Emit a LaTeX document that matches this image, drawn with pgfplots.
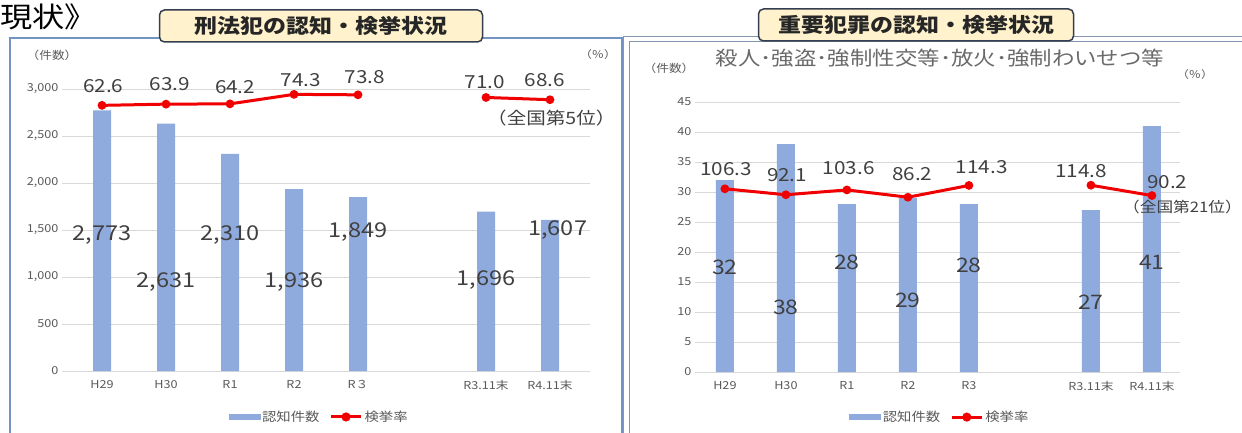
\documentclass[border=0pt]{standalone}
\usepackage{pgfplots}
\pgfplotsset{compat=1.18}
\usepackage{fontspec}
\setmainfont[FakeStretch=1.15]{Noto Sans CJK JP}

\definecolor{barblue}{HTML}{8FAADC}
\definecolor{ratered}{HTML}{F00000}
\definecolor{gridgray}{HTML}{D9D9D9}
\definecolor{ticktext}{HTML}{595959}
\definecolor{labeltext}{HTML}{404040}
\definecolor{boxfill}{HTML}{FFF2CC}
\definecolor{boxline}{HTML}{333F50}
\definecolor{panelline}{HTML}{7393C0}
\definecolor{panelgray}{HTML}{8497B0}

\newcommand{\fsz}[1]{\fontsize{#1}{#1}\selectfont}

\pgfplotsset{
  base/.style={
    scale only axis, clip=false,
    axis line style={draw=none},
    tick style={draw=none},
    /pgf/number format/assume math mode=true,
    /pgf/number format/1000 sep={,},
    scaled y ticks=false,
    tick label style={font=\fsz{11}, text=ticktext},
    xticklabel style={yshift=-6pt},
    grid style={gridgray, line width=0.8pt},
    xtick={0,1,2,3,4,6,7},
  },
  ratestyle/.style={ratered, line width=3pt, mark=*, mark size=2.8pt,
    mark options={fill=ratered, draw=ratered}},
  labstyle/.style={draw=none, mark=none, forget plot, nodes near coords,
    point meta=explicit symbolic,
    every node near coord/.append style={anchor=center, inner sep=0pt, text=labeltext, font=\fsz{#1}}},
  barleg/.style={legend image code/.code={\fill[barblue] (0pt,-2.5pt) rectangle (31pt,2.5pt);}},
  rateleg/.style={legend image code/.code={\draw[ratered, line width=3pt] (0pt,0pt) -- (30pt,0pt);
    \fill[ratered] (15pt,0pt) circle (3pt);}},
  legstyle/.style={legend style={at={#1}, anchor=center, draw=none, fill=none,
    legend columns=-1, font=\fsz{12.5}, text=ticktext,
    /tikz/every even column/.append style={column sep=8pt}}},
}

\begin{document}
\begin{tikzpicture}
\useasboundingbox (0,0) rectangle (1242pt,432pt);

% panel frames and headings
\begin{scope}[x=1pt, y=-1pt, yshift=432pt]
  \draw[panelline, line width=1.2pt] (10,445) -- (10,38) -- (622,38) -- (622,445);
  \draw[panelgray, line width=1pt] (623,445) -- (623,37) -- (1250,37);
  \draw[panelgray, line width=1pt] (629,445) -- (629,42) -- (1250,42);
  \node[anchor=west, inner sep=0pt, font=\fsz{28}] at (0,17) {現状》};
  \node[draw=boxline, fill=boxfill, line width=1.5pt, rounded corners=5pt,
        minimum width=323pt, minimum height=32pt, inner sep=0pt,
        font=\fsz{20}\bfseries, text=black!85] at (321,26) {刑法犯の認知・検挙状況};
  \node[draw=boxline, fill=boxfill, line width=1.5pt, rounded corners=5pt,
        minimum width=315pt, minimum height=32pt, inner sep=0pt,
        font=\fsz{20}\bfseries, text=black!85] at (916,25) {重要犯罪の認知・検挙状況};
  \node[font=\fsz{11}, text=ticktext] at (52,55) {（件数）};
  \node[font=\fsz{10.5}, text=ticktext] at (598,55) {（％）};
  \node[font=\fsz{11}, text=ticktext] at (669,68) {（件数）};
  \node[font=\fsz{10.5}, text=ticktext] at (1195,75) {（％）};
  \node[font=\fsz{19.5}, text=ticktext!90] at (940,58) {殺人･強盗･強制性交等･放火･強制わいせつ等};
\end{scope}

% ---- left: 刑法犯 ----
\begin{axis}[base, at={(62pt,61pt)}, anchor=south west, width=528pt, height=282pt,
  xmin=-0.625, xmax=7.625, ymin=0, ymax=3000, ytick={0,500,...,3000}, ymajorgrids,
  xticklabels={H29,H30,R1,R2,R３,R3.11末,R4.11末}]
  \addplot[ybar, bar width=18pt, fill=barblue, draw=none]
    coordinates {(0,2773) (1,2631) (2,2310) (3,1936) (4,1849) (6,1696) (7,1607)};
  \addplot[labstyle=20.5] table[meta=lab] {
    x    y    lab
    0    1447 2,773
    1    947  2,631
    2    1447 2,310
    3    947  1,936
    4    1479 1,849
    6    968  1,696
    7.12 1500 1,607
  };
\end{axis}
\begin{axis}[base, at={(62pt,61pt)}, anchor=south west, width=528pt, height=282pt,
  xmin=-0.625, xmax=7.625, ymin=-220, ymax=80, ytick=\empty, xtick=\empty,
  legstyle={(0.487,-0.163)}]
  \addlegendimage{barleg}
  \addlegendentry{認知件数}
  \addplot[ratestyle, rateleg] coordinates {(0,62.6) (1,63.9) (2,64.2) (3,74.3) (4,73.8)};
  \addlegendentry{検挙率}
  \addplot[ratestyle, forget plot] coordinates {(6,71.0) (7,68.6)};
  \addplot[labstyle=18] table[meta=lab] {
    x    y    lab
    0.02 83.2 62.6
    1.06 85.3 63.9
    2.08 82.1 64.2
    3.11 89.6 74.3
    4.11 92.8 73.8
    5.98 87.4 71.0
    6.92 89.6 68.6
  };
  \addplot[labstyle=17] table[meta=lab] {
    x    y    lab
    7.02 49.1 （全国第5位）
  };
\end{axis}

% ---- right: 重要犯罪 ----
\begin{axis}[base, at={(695pt,60pt)}, anchor=south west, width=485pt, height=270pt,
  xmin=-0.49, xmax=7.46, ymin=0, ymax=45, ytick={0,5,...,45}, ymajorgrids,
  xticklabels={H29,H30,R1,R2,R3,R3.11末,R4.11末}]
  \addplot[ybar, bar width=18pt, fill=barblue, draw=none]
    coordinates {(0,32) (1,38) (2,28) (3,29) (4,28) (6,27) (7,41)};
  \addplot[labstyle=20] table[meta=lab] {
    x y    lab
    0 17.5 32
    1 10.7 38
    2 18.2 28
    3 12.0 29
    4 17.8 28
    6 11.7 27
    7 18.3 41
  };
\end{axis}
\begin{axis}[base, at={(695pt,60pt)}, anchor=south west, width=485pt, height=270pt,
  xmin=-0.49, xmax=7.46, ymin=-330, ymax=313, ytick=\empty, xtick=\empty,
  legstyle={(0.505,-0.167)}]
  \addlegendimage{barleg}
  \addlegendentry{認知件数}
  \addplot[ratestyle, rateleg] coordinates {(0,106.3) (1,92.1) (2,103.6) (3,86.2) (4,114.3)};
  \addlegendentry{検挙率}
  \addplot[ratestyle, forget plot] coordinates {(6,114.8) (7,90.2)};
  \addplot[labstyle=18] table[meta=lab] {
    x    y     lab
    0.02 153.4 106.3
    1.02 139.2 92.1
    2.03 155.8 103.6
    3.07 141.5 86.2
    4.21 158.2 114.3
    5.84 148.7 114.8
    7.25 122.5 90.2
  };
  \addplot[labstyle=14.5] table[meta=lab] {
    x    y  lab
    7.50 63 （全国第21位）
  };
\end{axis}
\end{tikzpicture}
\end{document}
